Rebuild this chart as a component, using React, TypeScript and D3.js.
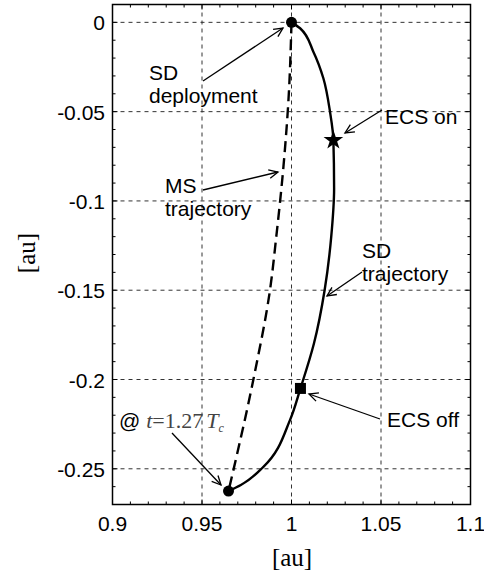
import { useEffect, useRef } from 'react'
import * as d3 from 'd3'

const W = 484
const H = 575

// SD trajectory (solid)
const sdX = [1, 1.0048, 1.0122, 1.0178, 1.0215, 1.0234, 1.0238, 1.0222, 1.0185, 1.0125, 1.005, 0.9992, 0.9843, 0.9717, 0.9648]
const sdY = [0, -0.0033, -0.0164, -0.0313, -0.05, -0.066, -0.093, -0.12, -0.15, -0.18, -0.205, -0.2226, -0.2489, -0.2591, -0.2625]

// MS trajectory (dashed)
const msX = [1, 0.9985, 0.9955, 0.9915, 0.988, 0.9787, 0.9648]
const msY = [0, -0.04, -0.0808, -0.12, -0.1498, -0.2, -0.2625]

const xTicks = [0.9, 0.95, 1, 1.05, 1.1]
const xTickLabels = ['0.9', '0.95', '1', '1.05', '1.1']
const yTicks = [0, -0.05, -0.1, -0.15, -0.2, -0.25]
const yTickLabels = ['0', '-0.05', '-0.1', '-0.15', '-0.2', '-0.25']

// markers
const dotPts = [[1, 0], [0.9648, -0.2625]]
const starPt = [1.0234, -0.066]
const squarePt = [1.005, -0.205]

export default function App() {
  const ref = useRef<SVGSVGElement>(null)

  useEffect(() => {
    if (!ref.current) return
    const svg = d3.select(ref.current)
    svg.selectAll('*').remove()

    const x = d3.scaleLinear().domain([0.9, 1.1]).range([112.5, 470.5])
    const y = d3.scaleLinear().domain([0.01, -0.27]).range([4.5, 504.5])
    const sans = 'Liberation Sans, Arial, sans-serif'
    const serif = 'Liberation Serif, Times New Roman, serif'

    svg.append('rect').attr('width', W).attr('height', H).attr('fill', '#fff')

    // grid
    const grid = svg.append('g').attr('stroke', '#333').attr('stroke-width', 1).attr('stroke-dasharray', '4,4')
    xTicks.slice(1, -1).forEach(t => {
      grid.append('line').attr('x1', x(t)).attr('x2', x(t)).attr('y1', y(0.01)).attr('y2', y(-0.27))
    })
    yTicks.forEach(t => {
      grid.append('line').attr('y1', y(t)).attr('y2', y(t)).attr('x1', x(0.9)).attr('x2', x(1.1))
    })

    // ticks (inward, all four sides)
    const tk = svg.append('g').attr('stroke', '#000').attr('stroke-width', 1)
    d3.range(0, 21).forEach(i => {
      const v = 0.9 + i * 0.01
      const len = i % 5 === 0 ? 5 : 3
      tk.append('line').attr('x1', x(v)).attr('x2', x(v)).attr('y1', y(-0.27)).attr('y2', y(-0.27) - len)
      tk.append('line').attr('x1', x(v)).attr('x2', x(v)).attr('y1', y(0.01)).attr('y2', y(0.01) + len)
    })
    d3.range(0, 28).forEach(i => {
      const v = 0.01 - i * 0.01
      const len = Math.abs(Math.round(v * 100)) % 5 === 0 ? 5 : 3
      tk.append('line').attr('y1', y(v)).attr('y2', y(v)).attr('x1', x(0.9)).attr('x2', x(0.9) + len)
      tk.append('line').attr('y1', y(v)).attr('y2', y(v)).attr('x1', x(1.1)).attr('x2', x(1.1) - len)
    })

    // frame
    svg.append('rect')
      .attr('x', x(0.9)).attr('y', y(0.01))
      .attr('width', x(1.1) - x(0.9)).attr('height', y(-0.27) - y(0.01))
      .attr('fill', 'none').attr('stroke', '#000').attr('stroke-width', 1.5)

    // tick labels
    xTicks.forEach((t, i) => {
      svg.append('text').attr('x', x(t)).attr('y', 531).attr('text-anchor', 'middle')
        .attr('font-family', sans).attr('font-size', 21).text(xTickLabels[i])
    })
    yTicks.forEach((t, i) => {
      svg.append('text').attr('x', 105).attr('y', y(t) + 8).attr('text-anchor', 'end')
        .attr('font-family', sans).attr('font-size', 21).text(yTickLabels[i])
    })

    // axis labels
    svg.append('text').attr('x', 292).attr('y', 566).attr('text-anchor', 'middle')
      .attr('font-family', serif).attr('font-size', 25).text('[au]')
    svg.append('text').attr('transform', 'translate(35,253) rotate(-90)').attr('text-anchor', 'middle')
      .attr('font-family', serif).attr('font-size', 25).text('[au]')

    // curves
    svg.append('path')
      .attr('d', d3.line<number>().x(i => x(sdX[i])).y(i => y(sdY[i])).curve(d3.curveMonotoneY)(d3.range(sdX.length)))
      .attr('fill', 'none').attr('stroke', '#000').attr('stroke-width', 2.4)
    svg.append('path')
      .attr('d', d3.line<number>().x(i => x(msX[i])).y(i => y(msY[i])).curve(d3.curveMonotoneY)(d3.range(msX.length)))
      .attr('fill', 'none').attr('stroke', '#000').attr('stroke-width', 2.4).attr('stroke-dasharray', '11,6')

    // markers
    dotPts.forEach(p => {
      svg.append('circle').attr('cx', x(p[0])).attr('cy', y(p[1])).attr('r', 5.5).attr('fill', '#000')
    })
    svg.append('path')
      .attr('d', d3.symbol().type(d3.symbolStar).size(120)()!)
      .attr('transform', `translate(${x(starPt[0])},${y(starPt[1])})`).attr('fill', '#000')
    svg.append('rect').attr('x', x(squarePt[0]) - 5.5).attr('y', y(squarePt[1]) - 5.5)
      .attr('width', 11).attr('height', 11).attr('fill', '#000')

    // annotations with open arrowheads
    const arrow = (x1: number, y1: number, x2: number, y2: number) => {
      const g = svg.append('g').attr('stroke', '#000').attr('stroke-width', 1.3).attr('fill', 'none')
      g.append('line').attr('x1', x1).attr('y1', y1).attr('x2', x2).attr('y2', y2)
      const a = Math.atan2(y2 - y1, x2 - x1)
      const L = 10, s = 0.45
      const p1 = [x2 - L * Math.cos(a - s), y2 - L * Math.sin(a - s)]
      const p2 = [x2 - L * Math.cos(a + s), y2 - L * Math.sin(a + s)]
      g.append('path').attr('d', `M${p1[0]},${p1[1]}L${x2},${y2}L${p2[0]},${p2[1]}`)
    }
    const label = (tx: number, ty: number, lines: string[]) => {
      lines.forEach((l, i) => {
        svg.append('text').attr('x', tx).attr('y', ty + i * 23)
          .attr('font-family', sans).attr('font-size', 21).text(l)
      })
    }

    label(149, 80, ['SD', 'deployment'])
    arrow(203, 81, 283, 28)

    label(165, 193, ['MS', 'trajectory'])
    arrow(203, 190, 278, 172)

    label(385, 124, ['ECS on'])
    arrow(382, 110, 345, 133)

    label(362, 258, ['SD', 'trajectory'])
    arrow(362, 272, 327, 296)

    label(387, 427, ['ECS off'])
    arrow(380, 419, 309, 394)

    const tt = svg.append('text').attr('x', 119).attr('y', 428).attr('font-size', 21)
    tt.append('tspan').attr('font-family', sans).text('@ ')
    tt.append('tspan').attr('font-family', serif).attr('font-size', 22).attr('font-style', 'italic').attr('fill', '#444').text('t')
    tt.append('tspan').attr('font-family', serif).attr('font-size', 22).attr('fill', '#444').text('=1.27')
    tt.append('tspan').attr('font-family', serif).attr('font-size', 22).attr('font-style', 'italic').attr('fill', '#444').attr('dx', 3).text('T')
    tt.append('tspan').attr('font-family', serif).attr('font-style', 'italic').attr('fill', '#444')
      .attr('font-size', 12).attr('dy', 4).text('c')
    arrow(172, 433, 221, 485)
  }, [])

  return <svg ref={ref} width={W} height={H} style={{ display: 'block', position: 'absolute', left: 0, top: 0 }} />
}
